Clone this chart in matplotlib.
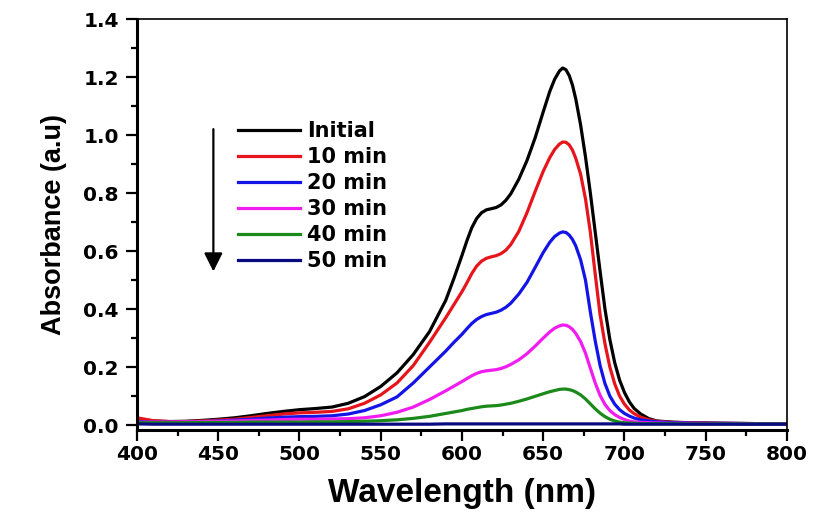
import numpy as np
import matplotlib
matplotlib.use('Agg')
import matplotlib.pyplot as plt

# wavelength grid (nm)
wl = [400, 410, 420, 430, 440, 450, 460, 470, 480, 490, 500, 510, 520,
      530, 540, 550, 560, 570, 580, 590, 595,
      600, 603, 606, 609, 612, 615, 618, 621, 624, 627, 630,
      635, 640, 645, 650, 654, 657, 660, 662, 664, 666, 668, 670,
      673, 676, 679, 682, 685, 688, 691, 694, 697, 700, 703, 706,
      710, 715, 720, 730, 740, 750, 760, 780, 800]

initial = [0.022, 0.014, 0.012, 0.013, 0.016, 0.020, 0.025, 0.032, 0.040, 0.047, 0.053, 0.057, 0.062,
           0.075, 0.098, 0.133, 0.180, 0.243, 0.322, 0.430, 0.505,
           0.585, 0.635, 0.680, 0.712, 0.732, 0.742, 0.746, 0.750, 0.759, 0.775, 0.797,
           0.848, 0.912, 0.990, 1.080, 1.150, 1.192, 1.221, 1.231, 1.225, 1.205, 1.172, 1.125,
           1.035, 0.925, 0.800, 0.665, 0.530, 0.400, 0.295, 0.215, 0.155, 0.112, 0.080, 0.057,
           0.038, 0.022, 0.014, 0.010, 0.008, 0.007, 0.006, 0.005, 0.005]
min10 = [0.025, 0.015, 0.012, 0.012, 0.014, 0.017, 0.020, 0.026, 0.032, 0.038, 0.042, 0.044, 0.047,
         0.056, 0.075, 0.104, 0.145, 0.205, 0.285, 0.370, 0.415,
         0.460, 0.490, 0.522, 0.548, 0.565, 0.575, 0.580, 0.584, 0.591, 0.603, 0.622,
         0.668, 0.732, 0.805, 0.875, 0.922, 0.950, 0.969, 0.976, 0.975, 0.966, 0.948, 0.920,
         0.865, 0.780, 0.665, 0.520, 0.380, 0.280, 0.200, 0.142, 0.100, 0.072, 0.052, 0.039,
         0.027, 0.018, 0.013, 0.009, 0.008, 0.007, 0.006, 0.005, 0.005]
min20 = [0.012, 0.010, 0.010, 0.010, 0.012, 0.014, 0.017, 0.020, 0.024, 0.027, 0.029, 0.030, 0.032,
         0.038, 0.050, 0.070, 0.097, 0.145, 0.200, 0.255, 0.285,
         0.313, 0.332, 0.350, 0.364, 0.374, 0.381, 0.385, 0.389, 0.396, 0.406, 0.420,
         0.452, 0.492, 0.543, 0.595, 0.630, 0.650, 0.662, 0.666, 0.664, 0.655, 0.640, 0.618,
         0.570, 0.500, 0.390, 0.290, 0.205, 0.143, 0.100, 0.072, 0.053, 0.040, 0.031, 0.024,
         0.018, 0.014, 0.011, 0.008, 0.007, 0.006, 0.006, 0.005, 0.005]
min30 = [0.010, 0.010, 0.010, 0.011, 0.012, 0.013, 0.014, 0.016, 0.017, 0.019, 0.020, 0.020, 0.021,
         0.022, 0.025, 0.032, 0.044, 0.062, 0.088, 0.118, 0.134,
         0.150, 0.160, 0.170, 0.178, 0.184, 0.187, 0.189, 0.191, 0.195, 0.201, 0.209,
         0.225, 0.246, 0.272, 0.300, 0.321, 0.334, 0.342, 0.345, 0.344, 0.339, 0.330, 0.316,
         0.288, 0.248, 0.196, 0.145, 0.102, 0.071, 0.050, 0.036, 0.026, 0.019, 0.014, 0.011,
         0.009, 0.008, 0.007, 0.006, 0.006, 0.005, 0.005, 0.005, 0.005]
min40 = [0.008, 0.008, 0.008, 0.008, 0.009, 0.009, 0.009, 0.010, 0.010, 0.010, 0.010, 0.011, 0.011,
         0.012, 0.013, 0.015, 0.018, 0.023, 0.030, 0.040, 0.045,
         0.050, 0.054, 0.057, 0.060, 0.063, 0.065, 0.066, 0.067, 0.069, 0.072, 0.075,
         0.082, 0.090, 0.099, 0.108, 0.115, 0.119, 0.123, 0.124, 0.124, 0.122, 0.119, 0.114,
         0.104, 0.090, 0.073, 0.056, 0.041, 0.029, 0.020, 0.014, 0.010, 0.008, 0.007, 0.006,
         0.005, 0.005, 0.005, 0.005, 0.004, 0.004, 0.004, 0.004, 0.004]
min50 = [0.004, 0.003, 0.003, 0.003, 0.003, 0.003, 0.003, 0.003, 0.003, 0.003, 0.003, 0.003, 0.003,
         0.003, 0.003, 0.003, 0.003, 0.003, 0.003, 0.004, 0.004,
         0.004, 0.004, 0.004, 0.004, 0.004, 0.004, 0.004, 0.004, 0.004, 0.004, 0.004,
         0.004, 0.004, 0.004, 0.004, 0.004, 0.004, 0.004, 0.004, 0.004, 0.004, 0.004, 0.004,
         0.004, 0.004, 0.004, 0.004, 0.004, 0.004, 0.004, 0.004, 0.004, 0.003, 0.003, 0.003,
         0.003, 0.003, 0.003, 0.003, 0.003, 0.003, 0.003, 0.003, 0.003]

labels = ['Initial', '10 min', '20 min', '30 min', '40 min', '50 min']
colors = ['#000000', '#e8141b', '#1414e6', '#f01cf0', '#1b8a1b', '#0a0a80']
series = [initial, min10, min20, min30, min40, min50]

plt.rcParams['font.family'] = ['DejaVu Sans']
plt.rcParams['font.weight'] = 'bold'

fig = plt.figure(figsize=(8.15, 5.27), dpi=100)
ax = fig.add_axes([0.1681, 0.1841, 0.7975, 0.7798])

for y, lab, c in zip(series, labels, colors):
    ax.plot(wl, y, color=c, lw=2.3, label=lab, solid_joinstyle='round')

ax.set_xlim(400, 800)
ax.set_ylim(-0.017, 1.4)
ax.set_xticks(np.arange(400, 801, 50))
ax.set_xticks(np.arange(425, 800, 50), minor=True)
ax.set_yticks(np.arange(0, 1.41, 0.2))
ax.set_yticks(np.arange(0.1, 1.4, 0.2), minor=True)
ax.set_yticklabels(['%.1f' % v for v in np.arange(0, 1.41, 0.2)])

ax.tick_params(which='major', direction='out', length=8, width=1.6, labelsize=14.5, pad=5)
ax.tick_params(which='minor', direction='out', length=4.5, width=1.6)
ax.tick_params(axis='x', which='major', pad=3)
for s in ['left', 'bottom']:
    ax.spines[s].set_linewidth(2.2)
for s in ['top', 'right']:
    ax.spines[s].set_linewidth(1.2)

ax.set_xlabel('Wavelength (nm)', fontsize=24, fontweight='bold',
              family=['Liberation Sans'], labelpad=10)
ax.set_ylabel('Absorbance (a.u)', fontsize=19.5, fontweight='bold',
              family=['Liberation Sans'], labelpad=12)

leg = ax.legend(loc='upper left', bbox_to_anchor=(0.155, 0.752), frameon=False,
                fontsize=15, handlelength=3.0, handletextpad=0.33, labelspacing=0.29,
                borderpad=0, borderaxespad=0)
for t in leg.get_texts():
    t.set_fontweight('bold')

ax.annotate('', xy=(447, 0.52), xytext=(447, 1.03),
            arrowprops=dict(arrowstyle='-|>', lw=1.6, color='black', mutation_scale=28))

fig.savefig('out.png', dpi=100)
